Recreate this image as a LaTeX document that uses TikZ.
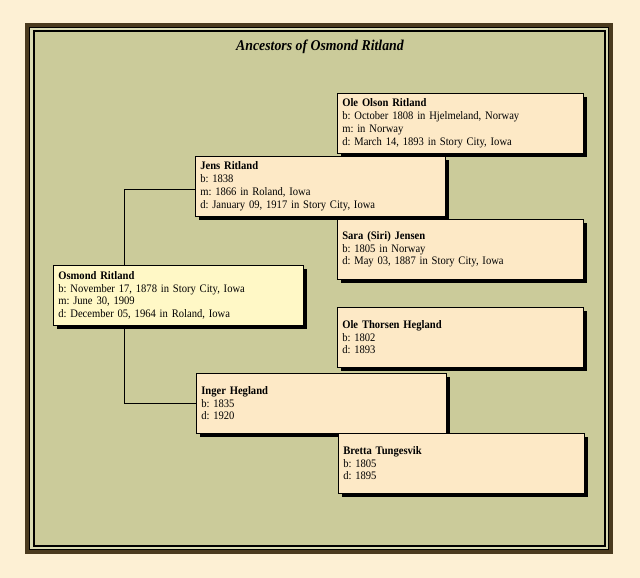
\documentclass[tikz,border=0pt]{standalone}
\usepackage{fontspec}
\setmainfont[FakeStretch=0.92]{Liberation Serif}
\usetikzlibrary{shadows}
\definecolor{paper}{HTML}{FDF0D4}
\definecolor{board}{HTML}{CBCB9A}
\definecolor{boardlt}{HTML}{D9DAB2}
\definecolor{frameb}{HTML}{4A3A1E}
\definecolor{card}{HTML}{FDE9C6}
\definecolor{cardme}{HTML}{FFF8C6}
\frenchspacing
\begin{document}
\begin{tikzpicture}[x=1pt, y=-1pt, line join=miter, font=\fontsize{11.5}{12.7}\selectfont,
		person/.style={draw=black, line width=0.6pt, fill=card, anchor=north west, align=left,
			text width=236pt, minimum height=60pt, inner xsep=5pt, inner ysep=2pt,
			drop shadow={shadow xshift=3.5pt, shadow yshift=-3.5pt, opacity=1, fill=black}},
		wide/.style={text width=240pt},
		link/.style={draw=black, line width=0.8pt}
		]
		\useasboundingbox (0,0) rectangle (640,578);
		\fill[paper] (0,0) rectangle (640,578);
		% frame
		\draw[frameb, line width=4.5pt, fill=boardlt] (27,25) rectangle (611,552);
		\draw[black, line width=1.2pt] (29.5,27.5) rectangle (608.5,549.5);
		\draw[black, line width=2pt, fill=board] (33.5,31) rectangle (604.5,546);
		\node (title) at (320,47) {\bfseries\itshape\fontsize{15}{17}\selectfont Ancestors of Osmond Ritland};
		% people
		\node[person] (ole) at (337,93) {\textbf{Ole Olson Ritland}\\b: October 1808 in Hjelmeland, Norway\\m: in Norway\\d: March 14, 1893 in Story City, Iowa};
		\node[person, wide] (jens) at (195,156) {\textbf{Jens Ritland}\\b: 1838\\m: 1866 in Roland, Iowa\\d: January 09, 1917 in Story City, Iowa};
		\node[person] (sara) at (337,219) {\textbf{Sara (Siri) Jensen}\\b: 1805 in Norway\\d: May 03, 1887 in Story City, Iowa};
		\node[person, wide, fill=cardme] (osmond) at (53,265) {\textbf{Osmond Ritland}\\b: November 17, 1878 in Story City, Iowa\\m: June 30, 1909\\d: December 05, 1964 in Roland, Iowa};
		\node[person] (olet) at (337,307) {\textbf{Ole Thorsen Hegland}\\b: 1802\\d: 1893};
		\node[person, wide] (inger) at (196,373) {\textbf{Inger Hegland}\\b: 1835\\d: 1920};
		\node[person] (bretta) at (338,433) {\textbf{Bretta Tungesvik}\\b: 1805\\d: 1895};
		% lines
		\draw[link] ([xshift=71pt]osmond.north west) |- ([yshift=-3pt]jens.west);
		\draw[link] ([xshift=71pt]osmond.south west) |- (inger.west);
\end{tikzpicture}
\end{document}
